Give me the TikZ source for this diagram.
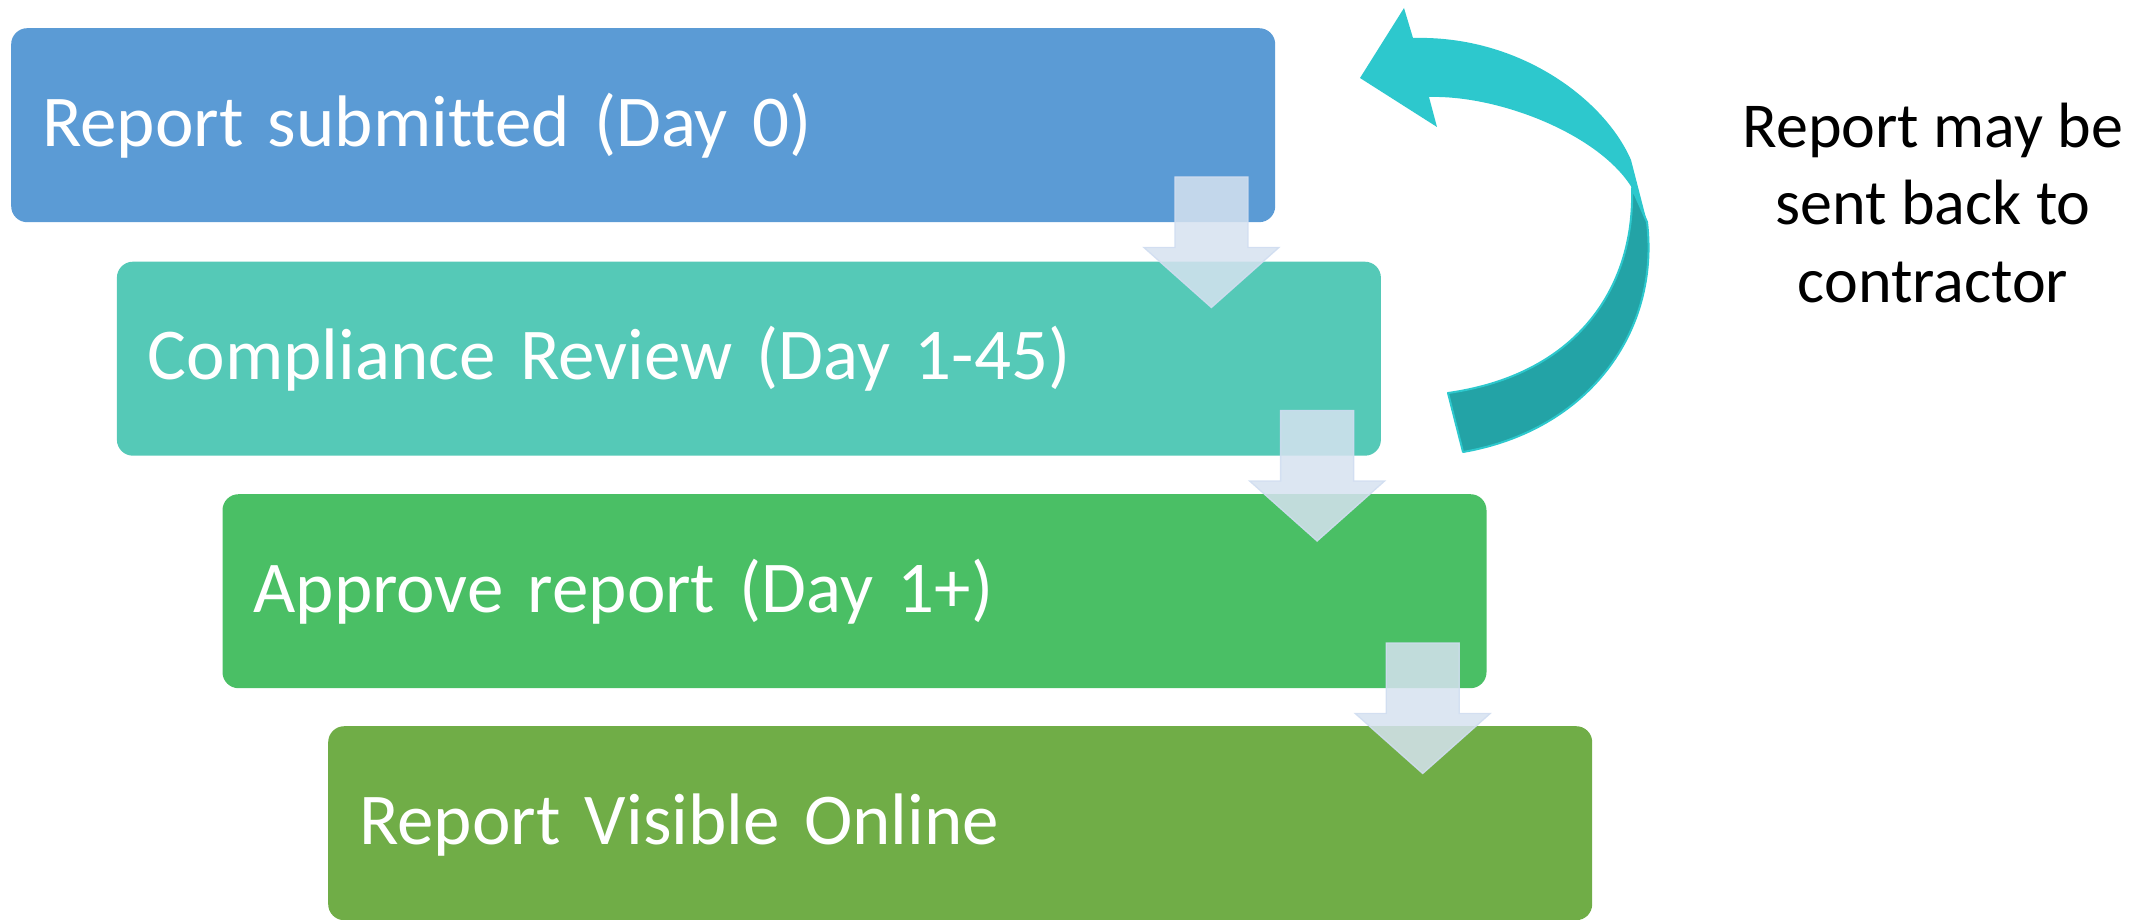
\documentclass[tikz,border=0pt]{standalone}
\usepackage{fontspec}
\setmainfont{Carlito}[Ligatures=NoCommon]
\usetikzlibrary{calc}
\protected\def\boxtextfont{\fontsize{73}{88}\selectfont\spaceskip=12.5pt plus 2pt minus 2pt\relax}
\definecolor{cboxa}{RGB}{91,155,213}
\definecolor{cboxb}{RGB}{85,201,183}
\definecolor{cboxc}{RGB}{74,191,101}
\definecolor{cboxd}{RGB}{112,173,71}
\definecolor{arrowfill}{RGB}{214,226,240}
\definecolor{arrowline}{RGB}{208,221,240}
\definecolor{teallight}{RGB}{45,200,205}
\definecolor{tealdark}{RGB}{35,163,166}
\tikzset{
  stepbox/.style={rectangle, rounded corners=16pt, minimum width=1264pt,
    minimum height=194pt, anchor=north west, text=white,
    font=\boxtextfont, text width=1202pt, align=left,
    inner xsep=31pt, inner ysep=0pt, text height=50pt, text depth=8pt},
  flowarrow/.style={fill=arrowfill, fill opacity=0.85, draw=arrowline,
    draw opacity=0.9, line width=1.3pt, line join=miter},
  notetext/.style={font=\fontsize{64}{78}\selectfont, text=black,
    anchor=base, inner sep=0pt},
}
\newcommand\stepdownarrow[1]{%
  \draw[flowarrow] (#1) ++(-36.5,0) -- ++(73,0) -- ++(0,70.5) -- ++(31,0)
    -- ++(-67.5,60) -- ++(-67.5,-60) -- ++(31,0) -- cycle;}
\begin{document}
\begin{tikzpicture}[x=1pt,y=-1pt]
\useasboundingbox (0,0) rectangle (2148,920);
% steps
\node[stepbox, fill=cboxa] (b1) at (11,28) {Report submitted (Day 0)};
\node[stepbox, fill=cboxb] (b2) at (116.7,261.5) {Compliance Review (Day 1-45)};
\node[stepbox, fill=cboxc] (b3) at (222.3,494) {Approve report (Day 1+)};
\node[stepbox, fill=cboxd] (b4) at (328,726) {Report Visible Online};
% down arrows between steps
\coordinate (a1) at ($(b1.north east)+(-64,149)$);
\coordinate (a2) at ($(b2.north east)+(-64,149)$);
\coordinate (a3) at ($(b3.north east)+(-64,149)$);
\stepdownarrow{a1}
\stepdownarrow{a2}
\stepdownarrow{a3}
% curved return arrow
\fill[teallight] (1360,78) -- (1404,8) -- (1413,38)
  .. controls (1520,35) and (1605,100) .. (1631,160) -- (1647,222) -- (1632,188)
  .. controls (1600,135) and (1500,95) .. (1429,97) -- (1437,127) -- cycle;
\filldraw[fill=tealdark, draw=teallight, line width=2pt, line join=round]
  (1632,188) -- (1647,222) .. controls (1660,330) and (1590,430) .. (1463,452)
  -- (1448,393) .. controls (1575,375) and (1635,290) .. (1632,188) -- cycle;
% note
\node[notetext] (n1) at (1933,148) {Report may be};
\node[notetext] (n2) at (1933,225) {sent back to};
\node[notetext] (n3) at (1933,302) {contractor};
\end{tikzpicture}
\end{document}
